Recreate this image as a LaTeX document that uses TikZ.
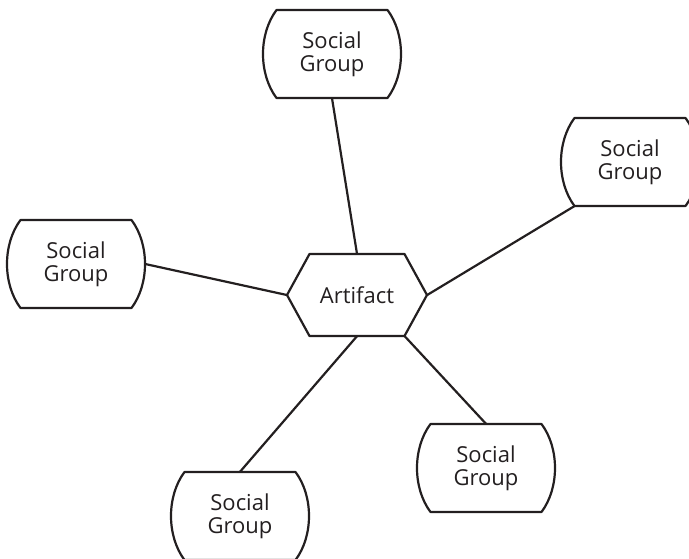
\documentclass[tikz,border=0pt]{standalone}
\usepackage{fontspec}
\setmainfont{Open Sans}
\usepackage{tikz}
\usetikzlibrary{calc}

\definecolor{inkline}{HTML}{231F20}

\tikzset{
  outline/.style={draw=inkline, line width=2.2pt, line join=round},
  link/.style={draw=inkline, line width=2.2pt},
  group/.style={minimum width=138pt, minimum height=88pt, inner sep=0pt, align=center,
    text=inkline, font=\fontsize{22}{23}\selectfont},
  artefact/.style={minimum width=140pt, minimum height=82pt, inner sep=0pt,
    text=inkline, font=\fontsize{22}{23}\selectfont}
}

% barrel outline round a social group node
\newcommand{\groupoutline}[1]{%
  \draw[outline, shift={(#1.center)}] (-55.5,-44) -- (55.5,-44)
    .. controls (73.5,-20) and (73.5,20) .. (55.5,44) -- (-55.5,44)
    .. controls (-73.5,20) and (-73.5,-20) .. cycle;}

\begin{document}
\begin{tikzpicture}[x=1pt,y=-1pt]
\clip (0,0) rectangle (689,559);
\node[artefact] (artifact) at (357,295) {Artifact};
\node[group] (grpT)  at (332,54)  {Social\\Group};
\node[group] (grpL)  at (76,264)  {Social\\Group};
\node[group] (grpR)  at (630,162) {Social\\Group};
\node[group] (grpBR) at (486,468) {Social\\Group};
\node[group] (grpB)  at (240,516) {Social\\Group};
\draw[outline, shift={(artifact.center)}] (-47.5,-41) -- (47.5,-41) -- (70,0)
  -- (47.5,41) -- (-47.5,41) -- (-70,0) -- cycle;
\foreach \g in {grpT,grpL,grpR,grpBR,grpB} {
  \groupoutline{\g}
}
\draw[link] (artifact.north) -- (grpT.south);
\draw[link] (artifact.west) -- (grpL.east);
\draw[link] (artifact.east) -- ([xshift=13.5pt]grpR.south west);
\draw[link] ([xshift=-22.5pt]artifact.south east) -- (grpBR.north);
\draw[link] (artifact.south) -- (grpB.north);
\end{tikzpicture}
\end{document}
